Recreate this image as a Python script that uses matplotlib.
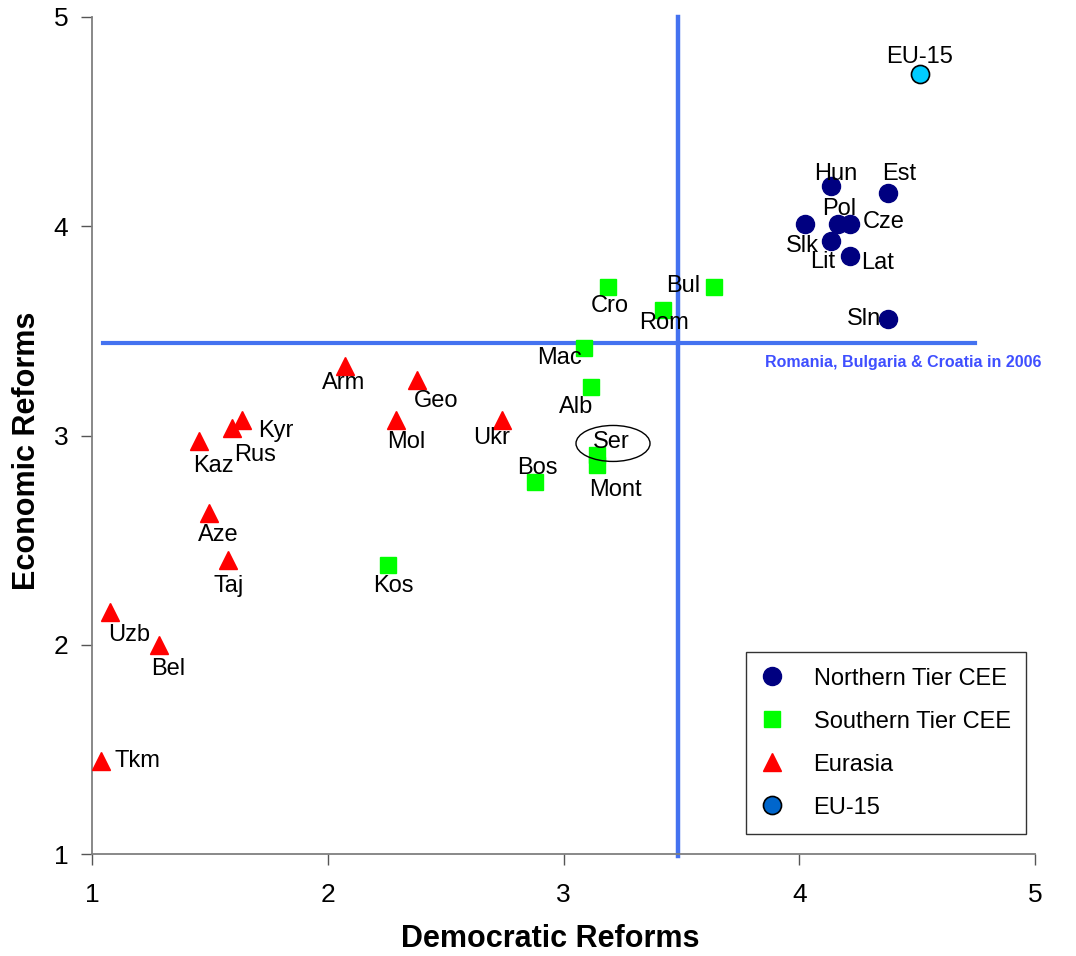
import matplotlib
matplotlib.use("Agg")
import matplotlib.pyplot as plt
from matplotlib.patches import Ellipse
from matplotlib.lines import Line2D

plt.rcParams['font.family'] = ['Liberation Sans', 'DejaVu Sans']

# ---- data ----
north_names = ["Hun", "Est", "Pol", "Cze", "Slk", "Lit", "Lat", "Sln"]
north_dem = [4.135, 4.377, 4.164, 4.215, 4.024, 4.135, 4.215, 4.377]
north_eco = [4.193, 4.160, 4.012, 4.010, 4.010, 3.930, 3.860, 3.558]

south_names = ["Cro", "Bul", "Rom", "Mac", "Alb", "Ser", "Mont", "Bos", "Kos"]
south_dem = [3.189, 3.638, 3.422, 3.087, 3.117, 3.142, 3.142, 2.879, 2.256]
south_eco = [3.711, 3.711, 3.601, 3.420, 3.234, 2.905, 2.857, 2.780, 2.379]

eur_names = ["Arm", "Geo", "Mol", "Ukr", "Kyr", "Rus", "Kaz", "Aze", "Taj", "Uzb", "Bel", "Tkm"]
eur_dem = [2.073, 2.379, 2.290, 2.739, 1.636, 1.594, 1.454, 1.496, 1.577, 1.076, 1.284, 1.038]
eur_eco = [3.334, 3.263, 3.076, 3.076, 3.076, 3.038, 2.976, 2.632, 2.403, 2.155, 1.998, 1.444]

eu_names = ["EU-15"]
eu_dem = [4.512]
eu_eco = [4.728]

threshold_dem = 3.486
threshold_eco = 3.444

x_ticks = [1, 2, 3, 4, 5]
y_ticks = [1, 2, 3, 4, 5]

# ---- label offsets (pixels) ----
offsets = {
    "EU-15": (0, 17), "Hun": (5, 12), "Est": (11, 19), "Pol": (1, 15), "Cze": (34, 2),
    "Slk": (-3, -22), "Lit": (-8, -21), "Lat": (28, -7), "Sln": (-24, 0),
    "Cro": (2, -19), "Bul": (-31, 1), "Rom": (1, -13), "Mac": (-25, -10), "Alb": (-15, -20),
    "Ser": (14, 13), "Mont": (18, -25), "Bos": (2, 14), "Kos": (5, -21),
    "Arm": (-1, -17), "Geo": (19, -21), "Mol": (10, -22), "Ukr": (-10, -18), "Kyr": (34, -11),
    "Rus": (23, -27), "Kaz": (14, -25), "Aze": (9, -22), "Taj": (1, -26), "Uzb": (19, -23),
    "Bel": (9, -24), "Tkm": (36, 0),
}

fig = plt.figure(figsize=(10.76, 9.56), dpi=100)
ax = fig.add_axes([92/1076, 1-854/956, 943/1076, 837/956])
ax.set_xlim(1, 5)
ax.set_ylim(1, 5)

line_col = "#4472F0"
ax.plot([1.047, 4.745], [threshold_eco, threshold_eco], color=line_col, lw=3.0, zorder=1, clip_on=False)
ax.plot([threshold_dem, threshold_dem], [0.99, 5.0], color=line_col, lw=3.2, zorder=1, clip_on=False)

ax.plot(north_dem, north_eco, 'o', color="#000080", mec="#000080", ms=13, ls='none', zorder=3)
ax.plot(south_dem, south_eco, 's', color="#00FF00", mec="#00FF00", ms=12, ls='none', zorder=3)
ax.plot(eur_dem, eur_eco, '^', color="#FF0000", mec="#FF0000", ms=13, ls='none', zorder=3)
ax.plot(eu_dem, eu_eco, 'o', color="#00CCFF", mec="black", mew=1.2, ms=13, ls='none', zorder=3)

fs = 17
for names, xs, ys in [(north_names, north_dem, north_eco), (south_names, south_dem, south_eco),
                      (eur_names, eur_dem, eur_eco), (eu_names, eu_dem, eu_eco)]:
    for n, x, y in zip(names, xs, ys):
        dx, dy = offsets[n]
        ax.annotate(n, (x, y), xytext=(dx, dy), textcoords='offset pixels',
                    ha='center', va='center', fontsize=fs, color='black', zorder=4)

# ellipse around Serbia
si = south_names.index("Ser")
ell = Ellipse((south_dem[si] + 0.068, south_eco[si] + 0.057), 0.314, 0.172,
              facecolor='none', edgecolor='black', lw=1.0, zorder=5)
ax.add_patch(ell)

fig.text(765/1076, 1-362/956, "Romania, Bulgaria & Croatia in 2006", color="#3F4FFF",
         fontsize=11.5, fontweight='bold', ha='left', va='center')

# axes styling
for s in ['top', 'right']:
    ax.spines[s].set_visible(False)
for s in ['left', 'bottom']:
    ax.spines[s].set_color('#7f7f7f')
    ax.spines[s].set_linewidth(1.3)
ax.set_xticks(x_ticks)
ax.set_yticks(y_ticks)
ax.set_xticklabels([str(t) for t in x_ticks])
ax.set_yticklabels([str(t) for t in y_ticks])
ax.tick_params(axis='both', direction='out', length=8, width=1.0, color='#555555',
               labelsize=19)
ax.tick_params(axis='x', pad=13)
ax.tick_params(axis='y', pad=9)

ax.set_xlabel("Democratic Reforms", fontsize=22, fontweight='bold', va='center', ha='center')
ax.set_ylabel("Economic Reforms", fontsize=22, fontweight='bold', va='center', ha='center')
ax.xaxis.set_label_coords(0.4857, -0.1016)
ax.yaxis.set_label_coords(-0.069, 0.4815)

handles = [
    Line2D([], [], marker='o', color="#000080", mec="#000080", ms=13, ls='none'),
    Line2D([], [], marker='s', color="#00FF00", mec="#00FF00", ms=12, ls='none'),
    Line2D([], [], marker='^', color="#FF0000", mec="#FF0000", ms=13, ls='none'),
    Line2D([], [], marker='o', color="#0066CC", mec="black", mew=1.2, ms=13, ls='none'),
]
labels = ["Northern Tier CEE", "Southern Tier CEE", "Eurasia", "EU-15"]
leg = ax.legend(handles, labels, loc='lower right', bbox_to_anchor=(0.9905, 0.0239),
                borderaxespad=0, fontsize=17, frameon=True, fancybox=False,
                edgecolor='black', labelspacing=0.89, handletextpad=1.33,
                borderpad=0.65, handlelength=0.9)
leg.get_frame().set_linewidth(1.0)

fig.savefig("out.png", dpi=100, facecolor='white')
